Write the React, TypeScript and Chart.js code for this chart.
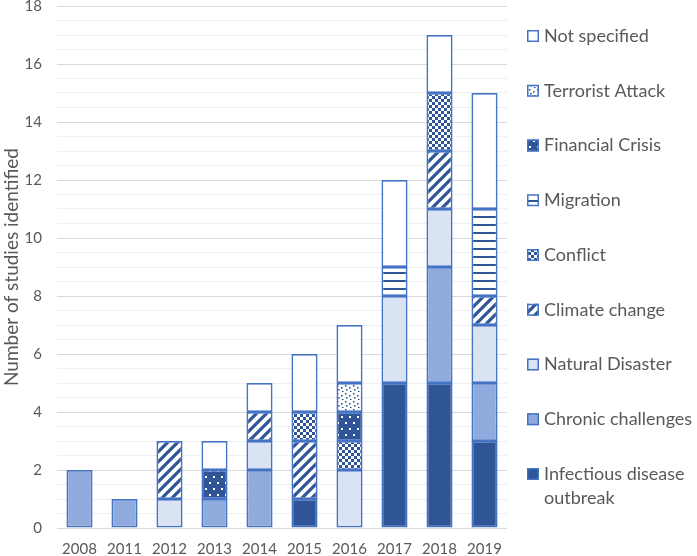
import React, { useEffect, useRef } from "react";
import { Chart, registerables } from "chart.js";

Chart.register(...registerables);

const categories = ["2008", "2011", "2012", "2013", "2014", "2015", "2016", "2017", "2018", "2019"];
const infectious = [null, null, null, null, null, 1, null, 5, 5, 3];
const chronic = [2, 1, null, 1, 2, null, null, null, 4, 2];
const natural = [null, null, 1, null, 1, null, 2, 3, 2, 2];
const climate = [null, null, 2, null, 1, 2, null, null, 2, 1];
const conflict = [null, null, null, null, null, 1, 1, null, 2, null];
const migration = [null, null, null, null, null, null, null, 1, null, 3];
const financial = [null, null, null, 1, null, null, 1, null, null, null];
const terrorist = [null, null, null, null, null, null, 1, null, null, null];
const notSpecified = [null, null, null, 1, 1, 2, 2, 3, 2, 4];

const legendOrder = [
  "Not specified",
  "Terrorist Attack",
  "Financial Crisis",
  "Migration",
  "Conflict",
  "Climate change",
  "Natural Disaster",
  "Chronic challenges",
  "Infectious disease outbreak",
];

const DARK = "#2F5597";
const MID = "#8FAADC";
const LIGHT = "#DAE3F3";
const BORDER = "#4472C4";
const TEXT = "#595959";
const FONT = "Lato";

function tile(w: number, h: number, draw: (c: CanvasRenderingContext2D) => void) {
  const cv = document.createElement("canvas");
  cv.width = w;
  cv.height = h;
  const c = cv.getContext("2d")!;
  draw(c);
  return cv;
}

function makePatterns(ctx: CanvasRenderingContext2D) {
  const stripes = tile(10, 10, (c) => {
    c.fillStyle = "#fff";
    c.fillRect(0, 0, 10, 10);
    c.strokeStyle = DARK;
    c.lineWidth = 3.2;
    c.beginPath();
    c.moveTo(-2, 12);
    c.lineTo(12, -2);
    c.moveTo(-7, 7);
    c.lineTo(7, -7);
    c.moveTo(3, 17);
    c.lineTo(17, 3);
    c.stroke();
  });
  const checker = tile(6, 6, (c) => {
    c.fillStyle = "#fff";
    c.fillRect(0, 0, 6, 6);
    c.fillStyle = DARK;
    c.fillRect(0, 0, 3, 3);
    c.fillRect(3, 3, 3, 3);
  });
  const hlines = tile(8, 8, (c) => {
    c.fillStyle = "#fff";
    c.fillRect(0, 0, 8, 8);
    c.fillStyle = DARK;
    c.fillRect(0, 0, 8, 2);
  });
  const finDots = tile(8, 12, (c) => {
    c.fillStyle = DARK;
    c.fillRect(0, 0, 8, 12);
    c.fillStyle = "#fff";
    c.fillRect(1, 2, 2, 2);
    c.fillRect(5, 8, 2, 2);
  });
  const terDots = tile(8, 8, (c) => {
    c.fillStyle = "#fff";
    c.fillRect(0, 0, 8, 8);
    c.fillStyle = DARK;
    c.fillRect(1, 1, 1.6, 1.6);
    c.fillRect(5, 3, 1.6, 1.6);
    c.fillRect(2, 5, 1.6, 1.6);
    c.fillRect(6, 7, 1.6, 1.6);
  });
  return {
    stripes: ctx.createPattern(stripes, "repeat")!,
    checker: ctx.createPattern(checker, "repeat")!,
    hlines: ctx.createPattern(hlines, "repeat")!,
    finDots: ctx.createPattern(finDots, "repeat")!,
    terDots: ctx.createPattern(terDots, "repeat")!,
  };
}

export default function App() {
  const ref = useRef<HTMLCanvasElement | null>(null);

  useEffect(() => {
    const canvas = ref.current!;
    const ctx = canvas.getContext("2d")!;
    const p = makePatterns(ctx);

    const series = [
      { label: "Infectious disease outbreak", data: infectious, fill: DARK },
      { label: "Chronic challenges", data: chronic, fill: MID },
      { label: "Natural Disaster", data: natural, fill: LIGHT },
      { label: "Climate change", data: climate, fill: p.stripes },
      { label: "Conflict", data: conflict, fill: p.checker },
      { label: "Migration", data: migration, fill: p.hlines },
      { label: "Financial Crisis", data: financial, fill: p.finDots },
      { label: "Terrorist Attack", data: terrorist, fill: p.terDots },
      { label: "Not specified", data: notSpecified, fill: "#ffffff" },
    ];

    const legendPlugin = {
      id: "customLegend",
      afterDraw(chart: any) {
        const c = chart.ctx as CanvasRenderingContext2D;
        c.save();
        const x0 = 527;
        const yStart = 36;
        const step = 54.75;
        legendOrder.forEach((name, i) => {
          const s = series.find((d) => d.label === name)!;
          const y = yStart + i * step;
          c.fillStyle = s.fill as any;
          c.fillRect(x0, y - 6, 12, 12);
          c.strokeStyle = BORDER;
          c.lineWidth = 1.5;
          c.strokeRect(x0 + 0.75, y - 5.25, 10.5, 10.5);
          c.fillStyle = TEXT;
          c.font = `18px ${FONT}`;
          c.textBaseline = "middle";
          c.textAlign = "left";
          if (name === "Infectious disease outbreak") {
            c.fillText("Infectious disease", 544, y);
            c.fillText("outbreak", 544, y + 24);
          } else {
            c.fillText(name, 544, y);
          }
        });
        c.restore();
      },
    };

    const chart = new Chart(canvas, {
      type: "bar",
      data: {
        labels: categories,
        datasets: series.map((s) => ({
          label: s.label,
          data: s.data as any,
          backgroundColor: s.fill as any,
          borderColor: BORDER,
          borderWidth: 1.8,
          borderSkipped: false,
          barPercentage: 0.58,
          categoryPercentage: 1,
        })),
      },
      options: {
        responsive: false,
        animation: false,
        layout: { padding: { top: 6, right: 190, left: 0, bottom: 0 } },
        plugins: {
          legend: { display: false },
          tooltip: { enabled: false },
        },
        scales: {
          x: {
            stacked: true,
            grid: { display: false },
            border: { display: false },
            ticks: {
              color: TEXT,
              font: { family: FONT, size: 15 },
              padding: 4,
            },
            afterFit(scale: any) {
              scale.height = 28;
              scale.paddingLeft = 0;
              scale.paddingRight = 0;
            },
          },
          y: {
            stacked: true,
            min: 0,
            max: 18,
            border: { display: false },
            grid: {
              drawTicks: false,
              color: (c: any) => (c.tick && Math.abs(c.tick.value % 2) < 1e-9 ? "#D9D9D9" : "#EFEFEF"),
              lineWidth: 1,
            },
            ticks: {
              stepSize: 0.5,
              autoSkip: false,
              color: TEXT,
              font: { family: FONT, size: 15 },
              padding: 15,
              callback: (v: any) => (Math.abs(Number(v) % 2) < 1e-9 ? String(v) : ""),
            },
            title: {
              display: true,
              text: "Number of studies identified",
              color: TEXT,
              font: { family: FONT, size: 19 },
              padding: { top: 0, bottom: 0 },
            },
            afterFit(scale: any) {
              scale.width = 57;
              scale.paddingTop = 0;
              scale.paddingBottom = 0;
            },
          },
        },
      },
      plugins: [legendPlugin],
    });

    return () => chart.destroy();
  }, []);

  return (
    <div style={{ position: "fixed", left: 0, top: 0, width: 697, height: 556, background: "#fff" }}>
      <canvas ref={ref} width={697} height={556} style={{ display: "block" }} />
    </div>
  );
}
